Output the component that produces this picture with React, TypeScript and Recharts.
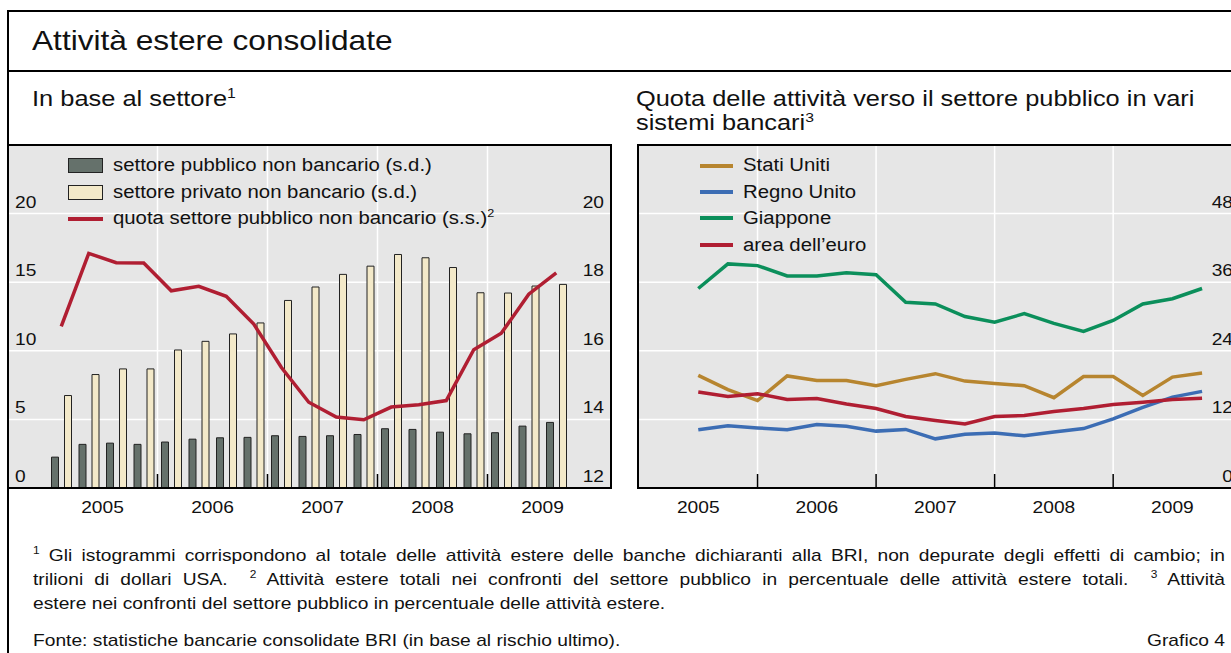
import React from 'react';
import { ComposedChart, LineChart, Bar, Line, XAxis, YAxis, CartesianGrid, ReferenceLine } from 'recharts';

const FONT = '"Liberation Sans", Arial, Helvetica, sans-serif';
const SX = 1.13;

// ---------- Left panel: In base al settore ----------
const quarters = ['2005Q1','2005Q2','2005Q3','2005Q4','2006Q1','2006Q2','2006Q3','2006Q4','2007Q1','2007Q2','2007Q3','2007Q4','2008Q1','2008Q2','2008Q3','2008Q4','2009Q1','2009Q2','2009Q3'];
const publicNonBank = [2.25, 3.18, 3.27, 3.18, 3.35, 3.56, 3.66, 3.69, 3.81, 3.76, 3.81, 3.9, 4.32, 4.27, 4.07, 3.95, 4.03, 4.51, 4.78];
const privateNonBank = [6.74, 8.27, 8.68, 8.68, 10.06, 10.69, 11.23, 12.03, 13.67, 14.65, 15.57, 16.17, 17.02, 16.78, 16.07, 14.23, 14.21, 14.72, 14.84];
const publicShare = [16.71, 18.84, 18.57, 18.56, 17.75, 17.88, 17.59, 16.78, 15.52, 14.5, 14.07, 13.99, 14.36, 14.43, 14.55, 16.03, 16.51, 17.65, 18.27];
const leftTicksL = [0, 5, 10, 15, 20];
const leftTicksR = [12, 14, 16, 18, 20];

// ---------- Right panel: quota settore pubblico ----------
const quarterEnds = ['2005Q2','2005Q3','2005Q4','2006Q1','2006Q2','2006Q3','2006Q4','2007Q1','2007Q2','2007Q3','2007Q4','2008Q1','2008Q2','2008Q3','2008Q4','2009Q1','2009Q2','2009Q3'];
const statiUniti = [19.7, 17.2, 15.3, 19.6, 18.8, 18.8, 17.9, 19.0, 20.0, 18.7, 18.3, 17.9, 15.8, 19.5, 19.5, 16.2, 19.4, 20.1];
const regnoUnito = [10.2, 10.9, 10.5, 10.2, 11.1, 10.8, 9.95, 10.25, 8.6, 9.4, 9.6, 9.15, 9.8, 10.4, 12.1, 14.1, 15.9, 16.9];
const giappone = [34.9, 39.2, 38.9, 37.1, 37.1, 37.65, 37.3, 32.5, 32.2, 30.0, 29.0, 30.5, 28.8, 27.4, 29.3, 32.2, 33.1, 34.9];
const areaEuro = [16.8, 16.0, 16.5, 15.5, 15.65, 14.7, 13.9, 12.5, 11.8, 11.2, 12.5, 12.7, 13.4, 13.9, 14.6, 15.0, 15.5, 15.7];
const rightTicks = [0, 12, 24, 36, 48];
const years = [2005, 2006, 2007, 2008, 2009];

const C_BG = '#e6e6e6';
const C_DARK = '#65716b';
const C_CREAM = '#f3e9c9';
const C_RED = '#b01e32';
const C_BROWN = '#b7852f';
const C_BLUE = '#3c6db4';
const C_GREEN = '#0b8f5b';
const C_TEXT = '#111';

const leftData = quarters.map((q, i) => ({ q, pub: publicNonBank[i], priv: privateNonBank[i], share: publicShare[i] }));
const qTime = (q: string) => Number(q.slice(0, 4)) + Number(q.slice(5)) / 4;
const rightData = quarterEnds.map((q, i) => ({ t: qTime(q), us: statiUniti[i], uk: regnoUnito[i], jp: giappone[i], ea: areaEuro[i] }));
const rightXTicks = [...years.map((y) => y + 0.5), ...years.slice(1)].sort((a, b) => a - b);
const leftBoundaries = quarters.filter((q) => q.endsWith('Q1') && !q.startsWith(String(years[0])));

const SvgLabel = ({ x, y, anchor, children, size = 17 }: any) => (
  <text transform={`translate(${x},${y}) scale(${SX},1)`} textAnchor={anchor} fontFamily={FONT} fontSize={size} fill={C_TEXT}>
    {children}
  </text>
);

const YTick = (p: any) => (
  <SvgLabel x={p.x} y={p.y - 6} anchor={p.textAnchor}>{p.payload.value}</SvgLabel>
);

const LeftXTick = (p: any) => {
  const v = String(p.payload.value);
  const off = typeof p.payload.offset === 'number' && p.payload.offset > 0 ? p.payload.offset : 13.75;
  const yr = v.slice(0, 4);
  const q = v.slice(4);
  if (q === 'Q1' && yr !== String(years[0])) {
    return <line x1={p.x - off} x2={p.x - off} y1={p.y} y2={p.y - 14} stroke="#000" strokeWidth={1.5} />;
  }
  if (q === 'Q2') {
    return <SvgLabel x={p.x + off} y={p.y + 24.7} anchor="middle">{yr}</SvgLabel>;
  }
  return <g />;
};

const RightXTick = (p: any) => {
  const v = Number(p.payload.value);
  if (Number.isInteger(v)) {
    return <line x1={p.x} x2={p.x} y1={p.y} y2={p.y - 14} stroke="#000" strokeWidth={1.5} />;
  }
  return <SvgLabel x={p.x} y={p.y + 24.7} anchor="middle">{Math.floor(v)}</SvgLabel>;
};

const Sup = ({ children }: any) => (
  <span style={{ fontSize: '0.62em', position: 'relative', top: '-0.62em' }}>{children}</span>
);

const HText = ({ x, baseline, size, children, anchor = 'start', sx = SX }: any) => {
  const top = baseline - 0.8465 * size;
  const base: React.CSSProperties = {
    position: 'absolute', top, fontSize: size, lineHeight: `${size}px`, whiteSpace: 'nowrap', color: C_TEXT,
    transform: `scaleX(${sx})`,
  };
  if (anchor === 'end') return <div style={{ ...base, right: 1231 - x, transformOrigin: 'right top' }}>{children}</div>;
  return <div style={{ ...base, left: x, transformOrigin: 'left top' }}>{children}</div>;
};

const JLine = ({ x, x2, baseline, size, children }: any) => (
  <div
    style={{
      position: 'absolute', left: x, top: baseline - 0.8465 * size, width: (x2 - x) / SX, fontSize: size,
      lineHeight: `${size}px`, whiteSpace: 'nowrap', textAlign: 'justify', textAlignLast: 'justify' as any,
      transform: `scaleX(${SX})`, transformOrigin: 'left top', color: C_TEXT,
    }}
  >
    {children}
  </div>
);

const Swatch = ({ left, top, w, h, color, border }: any) => (
  <div style={{ position: 'absolute', left, top, width: w, height: h, background: color, border: border ? '1px solid #222' : 'none', boxSizing: 'border-box' }} />
);

export default function App() {
  const legendSize = 18;
  return (
    <div style={{ position: 'fixed', left: 0, top: 0, width: 1231, height: 653, overflow: 'hidden', background: '#fff', fontFamily: FONT }}>
      {/* outer frame */}
      <div style={{ position: 'absolute', left: 7, top: 10, width: 1400, height: 800, border: '2px solid #000', boxSizing: 'border-box' }} />
      <div style={{ position: 'absolute', left: 7, top: 70, width: 1400, height: 2, background: '#000' }} />

      <HText x={31.7} baseline={51} size={28}>Attività estere consolidate</HText>
      <HText x={31.7} baseline={107.5} size={22.5}>In base al settore<Sup>1</Sup></HText>
      <HText x={636} baseline={107} size={21.5} sx={1.18}>Quota delle attività verso il settore pubblico in vari</HText>
      <HText x={636} baseline={131} size={21.5} sx={1.18}>sistemi bancari<Sup>3</Sup></HText>

      {/* Left chart */}
      <div style={{ position: 'absolute', left: 8, top: 145 }}>
        <ComposedChart width={603} height={383} data={leftData} margin={{ top: 0, right: 0, bottom: 0, left: 0 }} barGap={6} barSize={7}>
          <CartesianGrid yAxisId="l" vertical={false} stroke="#fff" strokeWidth={1.5} fill={C_BG} fillOpacity={1} />
          <XAxis dataKey="q" height={40} padding={{ left: 39.5, right: 41 }} interval={0} tickLine={false} tickSize={0} tickMargin={0}
            axisLine={{ stroke: '#000', strokeWidth: 2 }} tick={LeftXTick} />
          <YAxis yAxisId="l" mirror domain={[0, 25]} ticks={leftTicksL} tickSize={0} tickMargin={7} axisLine={false} tickLine={false} tick={YTick} />
          <YAxis yAxisId="r" mirror orientation="right" domain={[12, 22]} ticks={leftTicksR} tickSize={0} tickMargin={7} axisLine={false} tickLine={false} tick={YTick} />
          {leftBoundaries.map((q) => (
            <ReferenceLine key={q} x={q} yAxisId="l" position="start" stroke="#fff" strokeWidth={1.5} />
          ))}
          <Bar yAxisId="l" dataKey="pub" fill={C_DARK} stroke="#222" strokeWidth={1} isAnimationActive={false} />
          <Bar yAxisId="l" dataKey="priv" fill={C_CREAM} stroke="#222" strokeWidth={1} isAnimationActive={false} />
          <Line yAxisId="r" dataKey="share" stroke={C_RED} strokeWidth={3.5} dot={false} isAnimationActive={false} />
        </ComposedChart>
      </div>
      <div style={{ position: 'absolute', left: 7, top: 144, width: 605, height: 345, borderTop: '2px solid #000', borderLeft: '2px solid #000', borderRight: '2px solid #000', boxSizing: 'border-box', pointerEvents: 'none' }} />

      {/* Left legend */}
      <Swatch left={68} top={158} w={35} h={15} color={C_DARK} border />
      <HText x={113} baseline={171.7} size={legendSize}>settore pubblico non bancario (s.d.)</HText>
      <Swatch left={68} top={184.5} w={35} h={15} color={C_CREAM} border />
      <HText x={113} baseline={198.3} size={legendSize}>settore privato non bancario (s.d.)</HText>
      <Swatch left={68} top={217} w={35} h={4} color={C_RED} />
      <HText x={113} baseline={224.5} size={legendSize}>quota settore pubblico non bancario (s.s.)<Sup>2</Sup></HText>

      {/* Right chart */}
      <div style={{ position: 'absolute', left: 639, top: 145 }}>
        <LineChart width={601} height={383} data={rightData} margin={{ top: 0, right: 0, bottom: 0, left: 0 }}>
          <CartesianGrid yAxisId="r" vertical={false} stroke="#fff" strokeWidth={1.5} fill={C_BG} fillOpacity={1} />
          <XAxis type="number" dataKey="t" domain={[2005, 2010.07]} ticks={rightXTicks} allowDataOverflow height={40} interval={0}
            tickLine={false} tickSize={0} tickMargin={0} axisLine={{ stroke: '#000', strokeWidth: 2 }} tick={RightXTick} />
          <YAxis yAxisId="r" mirror orientation="right" domain={[0, 60]} ticks={rightTicks} tickSize={0} tickMargin={7} axisLine={false} tickLine={false} tick={YTick} />
          {years.slice(1).map((y) => (
            <ReferenceLine key={y} x={y} yAxisId="r" stroke="#fff" strokeWidth={1.5} />
          ))}
          <Line yAxisId="r" dataKey="us" stroke={C_BROWN} strokeWidth={3.5} dot={false} isAnimationActive={false} />
          <Line yAxisId="r" dataKey="uk" stroke={C_BLUE} strokeWidth={3.5} dot={false} isAnimationActive={false} />
          <Line yAxisId="r" dataKey="jp" stroke={C_GREEN} strokeWidth={3.5} dot={false} isAnimationActive={false} />
          <Line yAxisId="r" dataKey="ea" stroke={C_RED} strokeWidth={3.5} dot={false} isAnimationActive={false} />
        </LineChart>
      </div>
      <div style={{ position: 'absolute', left: 637, top: 144, width: 700, height: 345, borderTop: '2px solid #000', borderLeft: '2px solid #000', boxSizing: 'border-box', pointerEvents: 'none' }} />

      {/* Right legend */}
      <Swatch left={700} top={163.7} w={33} h={4} color={C_BROWN} />
      <HText x={743.3} baseline={171.5} size={legendSize}>Stati Uniti</HText>
      <Swatch left={700} top={190.3} w={33} h={4} color={C_BLUE} />
      <HText x={743.3} baseline={198} size={legendSize}>Regno Unito</HText>
      <Swatch left={700} top={216.3} w={33} h={4} color={C_GREEN} />
      <HText x={743.3} baseline={224.5} size={legendSize}>Giappone</HText>
      <Swatch left={700} top={243} w={33} h={4} color={C_RED} />
      <HText x={743.3} baseline={251} size={legendSize}>area dell’euro</HText>

      {/* Footnotes */}
      <JLine x={33} x2={1225} baseline={561} size={17}>
        <Sup>1</Sup> Gli istogrammi corrispondono al totale delle attività estere delle banche dichiaranti alla BRI, non depurate degli effetti di cambio; in
      </JLine>
      <JLine x={33} x2={1225} baseline={585} size={17}>
        trilioni di dollari USA. &nbsp;<Sup>2</Sup> Attività estere totali nei confronti del settore pubblico in percentuale delle attività estere totali. &nbsp;<Sup>3</Sup> Attività
      </JLine>
      <HText x={33} baseline={609} size={17}>estere nei confronti del settore pubblico in percentuale delle attività estere.</HText>
      <HText x={33} baseline={646} size={17}>Fonte: statistiche bancarie consolidate BRI (in base al rischio ultimo).</HText>
      <HText x={1225} baseline={646} size={17} anchor="end">Grafico 4</HText>
    </div>
  );
}
